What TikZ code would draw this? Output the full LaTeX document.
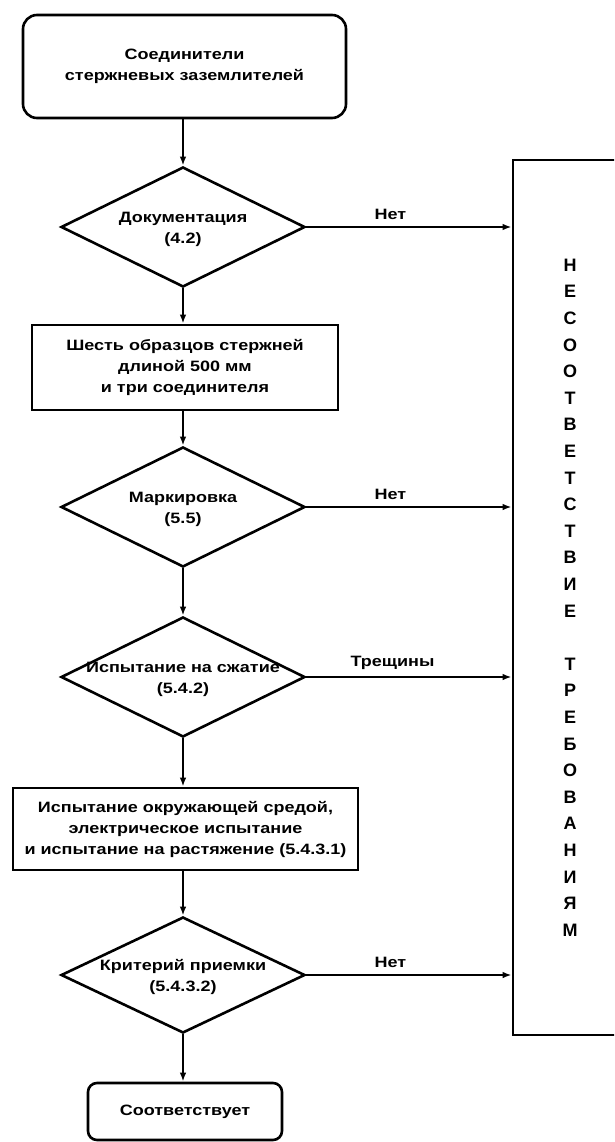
\documentclass[tikz,border=0pt]{standalone}
\usepackage{fontspec}
\setmainfont[FakeStretch=1.2]{Liberation Sans}
\newfontfamily\vfont{Liberation Sans}
\usetikzlibrary{shapes.geometric,arrows.meta}
\newcommand{\txtfont}{\fontsize{15}{21}\selectfont\bfseries}
\begin{document}
\begin{tikzpicture}[x=1pt,y=-1pt,
  every node/.style={inner sep=0pt},
  rbox/.style={draw,line width=2.6pt,rounded corners=14pt,align=center,font=\txtfont},
  sbox/.style={draw,line width=2.6pt,align=center,font=\txtfont},
  dia/.style={diamond,draw,line width=2.6pt,minimum width=244pt,minimum height=120pt,aspect=2},
  dtext/.style={align=center,font=\txtfont},
  arr/.style={line width=2pt,-{Latex[length=9pt,width=6.5pt]}},
  lab/.style={font=\txtfont,above=6pt}]
\clip (0,0) rectangle (614,1142);
\fill[white] (0,0) rectangle (614,1142);

\node[rbox,minimum width=323pt,minimum height=103pt] (start) at (184.5,66.5) {Соединители\\стержневых заземлителей};
\node[dia] (d1) at (183,227) {};
\node[dtext] (t1) at (183,229) {Документация\\(4.2)};
\node[sbox,minimum width=306pt,minimum height=85pt] (b2) at (185,367.5) {Шесть образцов стержней\\длиной 500 мм\\и три соединителя};
\node[dia] (d2) at (183,507) {};
\node[dtext] (t2) at (183,509) {Маркировка\\(5.5)};
\node[dia] (d3) at (183,677) {};
\node[dtext] (t3) at (183,679) {Испытание на сжатие\\(5.4.2)};
\node[sbox,minimum width=345pt,minimum height=82pt] (b4) at (185.5,829) {Испытание окружающей средой,\\электрическое испытание\\и испытание на растяжение (5.4.3.1)};
\node[dia,minimum height=116pt] (d4) at (183,975) {};
\node[dtext] (t4) at (183,977) {Критерий приемки\\(5.4.3.2)};
\node[rbox,rounded corners=9pt,minimum width=194pt,minimum height=57pt] (end) at (185,1111.5) {Соответствует};

\node[draw,line width=2.6pt,minimum width=140pt,minimum height=875pt] (nc) at (583,597.5) {};
\node[font=\vfont\fontsize{18}{26.6}\selectfont\bfseries,align=center] (nct) at (570,597.5)
 {Н\\Е\\С\\О\\О\\Т\\В\\Е\\Т\\С\\Т\\В\\И\\Е\\\mbox{}\\Т\\Р\\Е\\Б\\О\\В\\А\\Н\\И\\Я\\М};

\draw[arr] (start.south -| d1.north) -- (d1.north);
\draw[arr] (d1.south) -- (d1.south |- b2.north);
\draw[arr] (b2.south -| d2.north) -- (d2.north);
\draw[arr] (d2.south) -- (d3.north);
\draw[arr] (d3.south) -- (d3.south |- b4.north);
\draw[arr] (b4.south -| d4.north) -- (d4.north);
\draw[arr] (d4.south) -- (d4.south |- end.north);

\draw[arr] (d1.east) -- node[lab,pos=0.41] (l1) {Нет} (d1.east -| nc.west);
\draw[arr] (d2.east) -- node[lab,pos=0.41] (l2) {Нет} (d2.east -| nc.west);
\draw[arr] (d3.east) -- node[lab,pos=0.42] (l3) {Трещины} (d3.east -| nc.west);
\draw[arr] (d4.east) -- node[lab,pos=0.41] (l4) {Нет} (d4.east -| nc.west);
\end{tikzpicture}
\end{document}
